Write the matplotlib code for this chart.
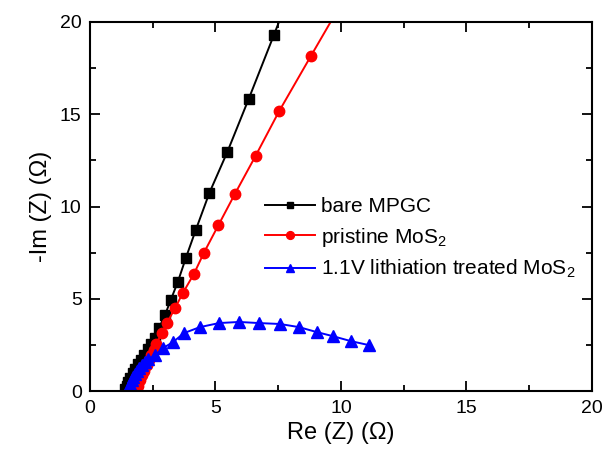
import matplotlib

matplotlib.use("Agg")

import matplotlib.pyplot as plt
from matplotlib.ticker import MultipleLocator

plt.rcParams["font.family"] = ["Liberation Sans", "DejaVu Sans"]
plt.rcParams["mathtext.fontset"] = "custom"
plt.rcParams["mathtext.rm"] = "Liberation Sans"
plt.rcParams["mathtext.it"] = "Liberation Sans"

# Nyquist data
bare_x = [1.40, 1.46, 1.53, 1.61, 1.70, 1.80, 1.91, 2.03, 2.16, 2.30, 2.45, 2.59,
          2.75, 2.99, 3.22, 3.50, 3.82, 4.22, 4.76, 5.47, 6.33, 7.33, 8.30]
bare_y = [0.10, 0.30, 0.52, 0.74, 0.97, 1.20, 1.45, 1.71, 1.98, 2.26, 2.55, 2.88,
          3.42, 4.13, 4.95, 5.92, 7.22, 8.75, 10.75, 12.95, 15.85, 19.30, 22.70]

pristine_x = [1.82, 1.90, 1.99, 2.08, 2.17, 2.27, 2.36, 2.45, 2.54, 2.63, 2.87,
              3.07, 3.39, 3.70, 4.14, 4.54, 5.12, 5.78, 6.60, 7.53, 8.80, 10.10]
pristine_y = [0.05, 0.30, 0.58, 0.85, 1.12, 1.40, 1.68, 1.95, 2.22, 2.55, 3.15,
              3.70, 4.50, 5.32, 6.35, 7.50, 9.00, 10.70, 12.75, 15.15, 18.15, 21.20]

treated_x = [1.50, 1.55, 1.60, 1.66, 1.72, 1.79, 1.87, 1.96, 2.06, 2.18, 2.32,
             2.60, 2.90, 3.30, 3.75, 4.38, 5.14, 5.94, 6.73, 7.57, 8.33, 9.04,
             9.68, 10.40, 11.10]
treated_y = [0.05, 0.22, 0.40, 0.58, 0.76, 0.93, 1.10, 1.27, 1.43, 1.58, 1.72,
             1.95, 2.33, 2.65, 3.15, 3.47, 3.69, 3.75, 3.69, 3.64, 3.47, 3.20,
             2.98, 2.71, 2.50]

fig = plt.figure(figsize=(6.04, 4.57), dpi=100)
ax = fig.add_axes([0.149, 0.144, 0.831, 0.808])

ax.plot(bare_x, bare_y, color="black", linewidth=1.4, marker="s",
        markersize=6.5, label="bare MPGC")
ax.plot(pristine_x, pristine_y, color="red", linewidth=1.4, marker="o",
        markersize=7.5, label="pristine MoS$_2$")
ax.plot(treated_x, treated_y, color="blue", linewidth=1.4, marker="^",
        markersize=8, label="1.1V lithiation treated MoS$_2$")

ax.set_xlim(0, 20)
ax.set_ylim(0, 20)
ax.xaxis.set_major_locator(MultipleLocator(5))
ax.xaxis.set_minor_locator(MultipleLocator(2.5))
ax.yaxis.set_major_locator(MultipleLocator(5))
ax.yaxis.set_minor_locator(MultipleLocator(2.5))
ax.tick_params(which="both", direction="in", top=True, right=True,
               width=1.3, labelsize=14)
ax.tick_params(which="major", length=7, pad=6)
ax.tick_params(which="minor", length=4)
for s in ax.spines.values():
    s.set_linewidth(1.5)

ax.set_xlabel("Re (Z) (\u03a9)", fontsize=17, labelpad=4)
ax.set_ylabel("-Im (Z) (\u03a9)", fontsize=17, labelpad=6)

leg = ax.legend(loc="upper left", bbox_to_anchor=(0.32, 0.565), frameon=False,
                fontsize=15, handlelength=2.4, handletextpad=0.3,
                labelspacing=0.45, borderpad=0.2, markerscale=0.75)

fig.savefig("out.png", dpi=100)
